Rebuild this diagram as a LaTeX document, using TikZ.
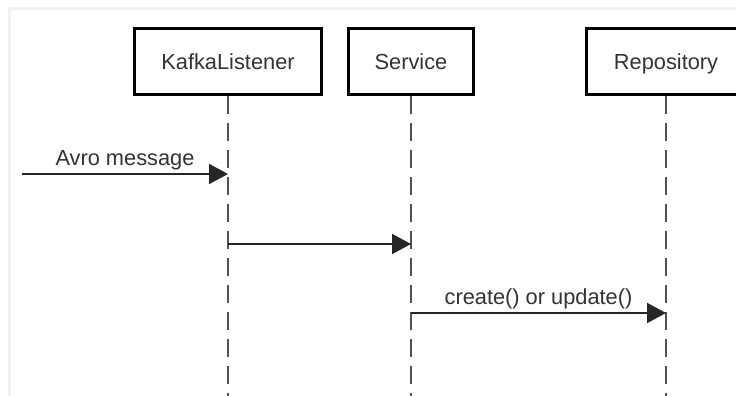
\documentclass[tikz,border=0pt]{standalone}
\usepackage{fontspec}
\setmainfont{Liberation Sans}
\usetikzlibrary{arrows.meta,positioning}
\definecolor{lifegray}{HTML}{333333}
\definecolor{framegray}{HTML}{F2F2F2}

\begin{document}
\begin{tikzpicture}[x=1pt,y=-1pt,>={Triangle[length=19pt,width=20pt]},font=\fontsize{21.8}{26}\selectfont,
 obj/.style={draw,line width=3pt,fill=white,minimum height=66pt,text=lifegray,inner sep=0pt,text height=17pt,text depth=0pt},
 life/.style={draw=lifegray!85,line width=2.2pt,dash pattern=on 18pt off 9pt},
 msg/.style={->,line width=2pt,draw=black!85},
 lbl/.style={anchor=base,yshift=8.5pt,text=lifegray}]
 \useasboundingbox (0,0) rectangle (736,396);
 \fill[white] (0,0) rectangle (736,396);
 \draw[framegray,line width=3pt] (9.5,396) -- (9.5,8.5) -- (736,8.5);
 \node[obj,minimum width=187pt] (kafka) at (228,61.5) {KafkaListener};
 \node[obj,minimum width=125pt] (service) at (411,61.5) {Service};
 \node[obj,minimum width=159pt] (repo) at (666,61.5) {Repository};
 \coordinate (bottom) at (0,396);
 \foreach \n in {kafka,service,repo}{\draw[life] (\n.south) -- (\n |- bottom);}
 \coordinate (src) at (22,174);
 \coordinate (m2) at (0,244);
 \coordinate (m3) at (0,313);
 \draw[msg] (src) -- node[lbl]{Avro message} (kafka |- src);
 \draw[msg] (kafka |- m2) -- (service |- m2);
 \draw[msg] (service |- m3) -- node[lbl]{create() or update()} (repo |- m3);
\end{tikzpicture}
\end{document}
